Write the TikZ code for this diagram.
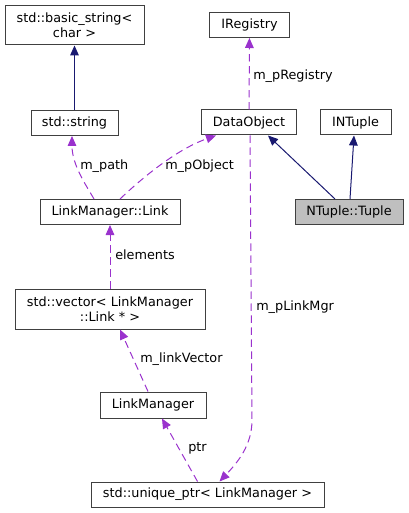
\documentclass[tikz,border=0pt]{standalone}
\usepackage{fontspec}
\setmainfont{DejaVu Sans}
\usetikzlibrary{arrows.meta,calc}
\definecolor{inhcol}{HTML}{191970}
\definecolor{usecol}{HTML}{9A32CD}
\definecolor{boxcol}{HTML}{404040}
\definecolor{curfill}{HTML}{BFBFBF}
\begin{document}
\begin{tikzpicture}[x=0.75pt,y=-0.75pt,
  cls/.style={draw=boxcol,line width=0.75pt,fill=white,inner sep=0pt,align=center,
    font=\fontsize{9.6}{11.2}\selectfont},
  inh/.style={draw=inhcol,line width=0.75pt,-{Triangle[length=7.5pt,width=6.5pt]},color=inhcol},
  use/.style={draw=usecol,line width=0.75pt,dash pattern=on 5.5pt off 3.5pt,
    -{Triangle[length=7.5pt,width=6.5pt,fill=usecol]},color=usecol},
  lbl/.style={anchor=west,inner sep=0pt,font=\fontsize{9.6}{11.2}\selectfont}]
\useasboundingbox (0,0) rectangle (409,513);
\node[cls,minimum width={139*0.75pt},minimum height={39*0.75pt}] (bs) at (74.5,25.5) {std::basic\_string\textless\\char \textgreater};
\node[cls,minimum width={87*0.75pt},minimum height={25*0.75pt}] (str) at (74.5,123) {std::string};
\node[cls,minimum width={80*0.75pt},minimum height={25*0.75pt}] (ireg) at (249.5,25) {IRegistry};
\node[cls,minimum width={95*0.75pt},minimum height={25*0.75pt}] (dobj) at (249,122.5) {DataObject};
\node[cls,minimum width={71*0.75pt},minimum height={25*0.75pt}] (intu) at (355.5,122.5) {INTuple};
\node[cls,fill=curfill,minimum width={108*0.75pt},minimum height={25*0.75pt}] (tuple) at (349,212) {NTuple::Tuple};
\node[cls,minimum width={140*0.75pt},minimum height={25*0.75pt}] (link) at (110,212) {LinkManager::Link};
\node[cls,minimum width={190*0.75pt},minimum height={40*0.75pt}] (vec) at (110,309) {std::vector\textless{} LinkManager\\::Link * \textgreater};
\node[cls,minimum width={106*0.75pt},minimum height={26*0.75pt}] (lm) at (153,405) {LinkManager};
\node[cls,minimum width={233*0.75pt},minimum height={25*0.75pt}] (uptr) at (207.5,494.5) {std::unique\_ptr\textless{} LinkManager \textgreater};
% inheritance
\draw[inh] (str) -- (bs);
\draw[inh] ($(tuple.north)+(-14,0)$) -- ($(dobj.south)+(19,0)$);
\draw[inh] ($(tuple.north)+(1,0)$) -- ($(intu.south)+(-1.5,0)$);
% usage
\draw[use] (dobj) -- (ireg);
\node[lbl] (l1) at (253,76) {m\_pRegistry};
\draw[use] ($(link.north)+(-16,0)$) .. controls (86,185) and (72,165) .. ($(str.south)+(-2.5,0)$);
\node[lbl] (l2) at (80,166) {m\_path};
\draw[use] ($(link.north)+(10,0)$) .. controls (140,180) and (175,150) .. ($(dobj.south)+(-33,0)$);
\node[lbl] (l3) at (165,166) {m\_pObject};
\draw[use] (vec) -- (link);
\node[lbl] (l4) at (115,255) {elements};
\draw[use] ($(lm.north)+(-5,0)$) -- ($(vec.south)+(10,0)$);
\node[lbl] (l5) at (140,359) {m\_linkVector};
\draw[use] ($(uptr.north)+(-10,0)$) -- ($(lm.south)+(9,0)$);
\node[lbl] (l6) at (188,448) {ptr};
\draw[use] ($(dobj.south)+(1,0)$) -- (252,420) .. controls (252,445) and (238,462) .. ($(uptr.north)+(12,0)$);
\node[lbl] (l7) at (256,307) {m\_pLinkMgr};
\end{tikzpicture}
\end{document}
